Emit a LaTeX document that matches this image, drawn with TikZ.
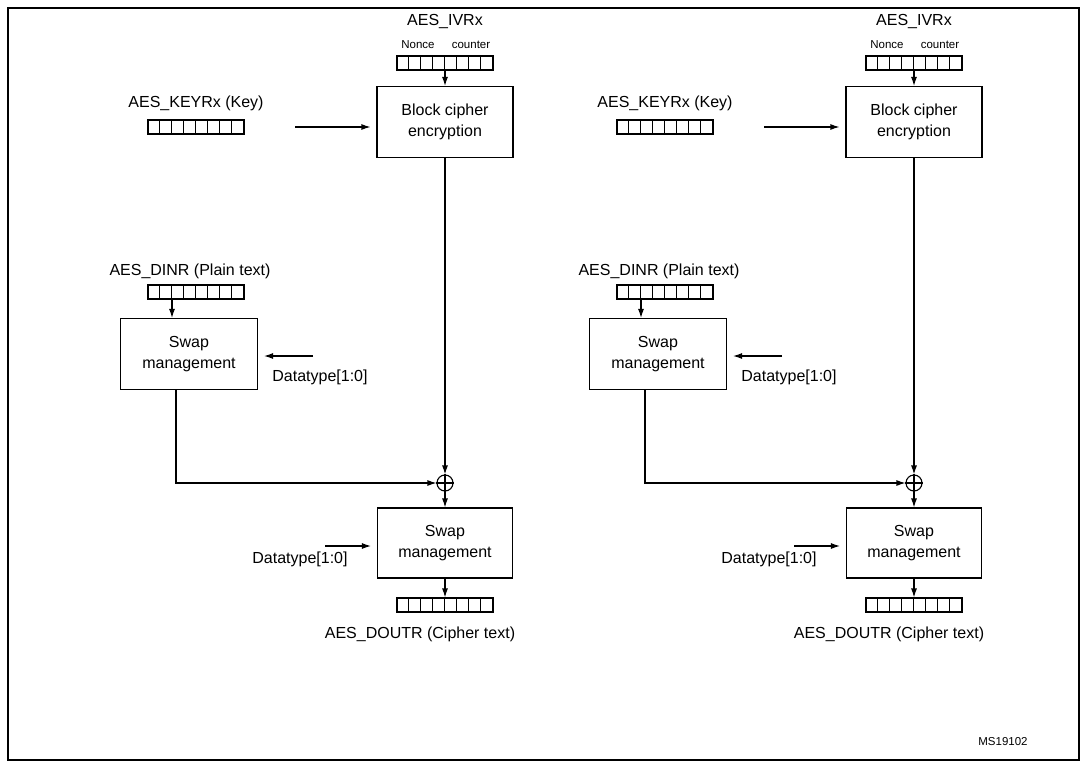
\documentclass[tikz,border=0pt]{standalone}
\usepackage{fontspec}
\setmainfont{Liberation Sans}
\usetikzlibrary{positioning, arrows.meta}

\begin{document}
\begin{tikzpicture}[x=1pt, y=-1pt,
	box/.style={draw, minimum width=136pt, minimum height=71pt, align=center, inner sep=0},
	reg/.style={draw, minimum width=96pt, minimum height=14pt, inner sep=0},
	lbl/.style={inner sep=1pt},
	small/.style={font=\fontsize{11.5}{13}\selectfont, inner sep=0},
	arr/.style={-{Latex[length=9pt, width=6pt]}},
	every node/.style={font=\fontsize{16}{21}\selectfont},
	every path/.style={line width=1.1pt}
	]
	\useasboundingbox (0,0) rectangle (1087,768);
	\draw (8,8) rectangle (1079,760);
	\node at (1003,742) [small] {MS19102};

	\foreach \p/\dx in {a/0, b/469} {
	\begin{scope}[xshift=\dx pt]
		% counter block and key
		\node (ivr\p) at (445,22) [lbl] {AES\_IVRx};
		\node at (418,45) [small] {Nonce};
		\node at (471,45) [small] {counter};
		\node (ivreg\p) at (445,63) [reg] {};
		\node (enc\p) at (445,122) [box] {Block cipher\\encryption};
		\node (key\p) at (196,103) [lbl] {AES\_KEYRx (Key)};
		\node (keyreg\p) at (196,127) [reg] {};
		\coordinate (keyin\p) at (295,127);

		% input side
		\node (din\p) at (190,271) [lbl] {AES\_DINR (Plain text)};
		\node (dinreg\p) at (196,292) [reg] {};
		\node (swi\p) at (189,354) [box, minimum width=137pt] {Swap\\management};
		\coordinate (dti\p) at (313,356);
		\node (dtil\p) at (320,377) [lbl] {Datatype[1:0]};

		% xor and output side
		\node (xor\p) at (445,483) [draw, circle, minimum size=16pt, inner sep=0] {};
		\draw (xor\p.north) -- (xor\p.south) (xor\p.west) -- (xor\p.east);
		\node (swo\p) at (445,543) [box, minimum width=135pt, minimum height=70pt] {Swap\\management};
		\coordinate (dto\p) at (325,546);
		\node (dtol\p) at (300,559) [lbl] {Datatype[1:0]};
		\node (oreg\p) at (445,605) [reg] {};
		\node (dout\p) at (420,634) [lbl] {AES\_DOUTR (Cipher text)};

		% register cells
		\foreach \r in {ivreg\p, keyreg\p, dinreg\p, oreg\p}
			\foreach \i in {1,...,7}
				\draw [line width=.8pt] ([xshift=12*\i pt]\r.north west) -- ([xshift=12*\i pt]\r.south west);

		% connectors
		\draw [arr] (ivreg\p) -- (enc\p);
		\draw [arr] (keyin\p) -- ([xshift=-6pt]enc\p.west |- keyin\p);
		\draw [arr] (enc\p) -- (xor\p);
		\draw [arr] ([xshift=-24pt]dinreg\p.south) -- ([xshift=-24pt]dinreg\p.south |- swi\p.north);
		\draw [arr] (dti\p) -- ([xshift=6pt]swi\p.east |- dti\p);
		\draw [arr] (swi\p.south -| 176,0) |- (xor\p.west);
		\draw [arr] (xor\p) -- (swo\p);
		\draw [arr] (dto\p) -- ([xshift=-6pt]swo\p.west |- dto\p);
		\draw [arr] (swo\p) -- (oreg\p);
	\end{scope}
	}
\end{tikzpicture}
\end{document}
